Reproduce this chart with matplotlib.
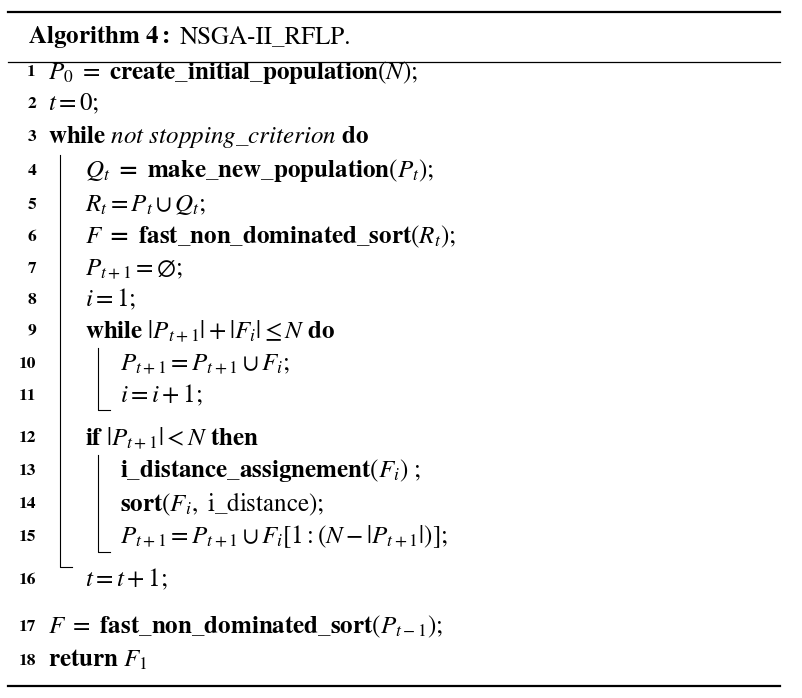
import matplotlib
matplotlib.use("Agg")
import matplotlib.pyplot as plt

plt.rcParams['mathtext.fontset'] = 'stix'
plt.rcParams['font.family'] = ['STIXGeneral', 'DejaVu Serif']

line_nums = list(range(1, 19))
line_y = [72, 104, 137, 171, 205, 237, 269, 300, 331, 364, 396, 438, 471, 504, 537, 580, 627, 661]
line_level = [0, 0, 0, 1, 1, 1, 1, 1, 1, 2, 2, 1, 2, 2, 2, 1, 0, 0]
line_text = [
    r"$P_0\ =\ \mathbf{create\_initial\_population}(N);$",
    r"$t=0;$",
    r"$\mathbf{while}\ \mathit{not\ stopping\_criterion}\ \mathbf{do}$",
    r"$Q_t\ \mathbf{=\ make\_new\_population}(P_t);$",
    r"$R_t=P_t\cup Q_t;$",
    r"$F\ \mathbf{=\ fast\_non\_dominated\_sort}(R_t);$",
    r"$P_{t+1}=\emptyset;$",
    r"$i=1;$",
    r"$\mathbf{while}\ |P_{t+1}|+|F_i|\leq N\ \mathbf{do}$",
    r"$P_{t+1}=P_{t+1}\cup F_i;$",
    r"$i=i+1;$",
    r"$\mathbf{if}\ |P_{t+1}|<N\ \mathbf{then}$",
    r"$\mathbf{i\_distance\_assignement}(F_i)\ ;$",
    r"$\mathbf{sort}(F_i,\ \mathrm{i\_distance});$",
    r"$P_{t+1}=P_{t+1}\cup F_i[1:(N-|P_{t+1}|)];$",
    r"$t=t+1;$",
    r"$F\ =\ \mathbf{fast\_non\_dominated\_sort}(P_{t-1});$",
    r"$\mathbf{return}\ F_1$",
]
blocks = [(60, 155, 567), (98, 348, 410), (98, 455, 552)]

fig = plt.figure(figsize=(8.02, 6.98), dpi=100)
ax = fig.add_axes([0, 0, 1, 1])
ax.set_xlim(0, 802)
ax.set_ylim(698, 0)
ax.axis('off')

ax.plot([8, 780], [12, 12], color='black', lw=1.6)
ax.plot([8, 780], [62, 62], color='black', lw=0.9)
ax.plot([8, 780], [686, 686], color='black', lw=1.6)

ax.text(28, 37, r"$\mathbf{Algorithm\ 4:}$", fontsize=18, va='center', ha='left')
ax.text(180, 37, "NSGA-II_RFLP.", fontsize=18, va='center', ha='left')

xs = {0: 48, 1: 85, 2: 120}
for n, y, lvl, t in zip(line_nums, line_y, line_level, line_text):
    ax.text(36, y, str(n), fontsize=12.5, fontweight='bold', va='center', ha='right')
    ax.text(xs[lvl], y, t, fontsize=18, va='center', ha='left')

for x, y0, y1 in blocks:
    ax.plot([x, x, x + 12], [y0, y1, y1], color='black', lw=0.8)

fig.savefig("out.png", dpi=100)
